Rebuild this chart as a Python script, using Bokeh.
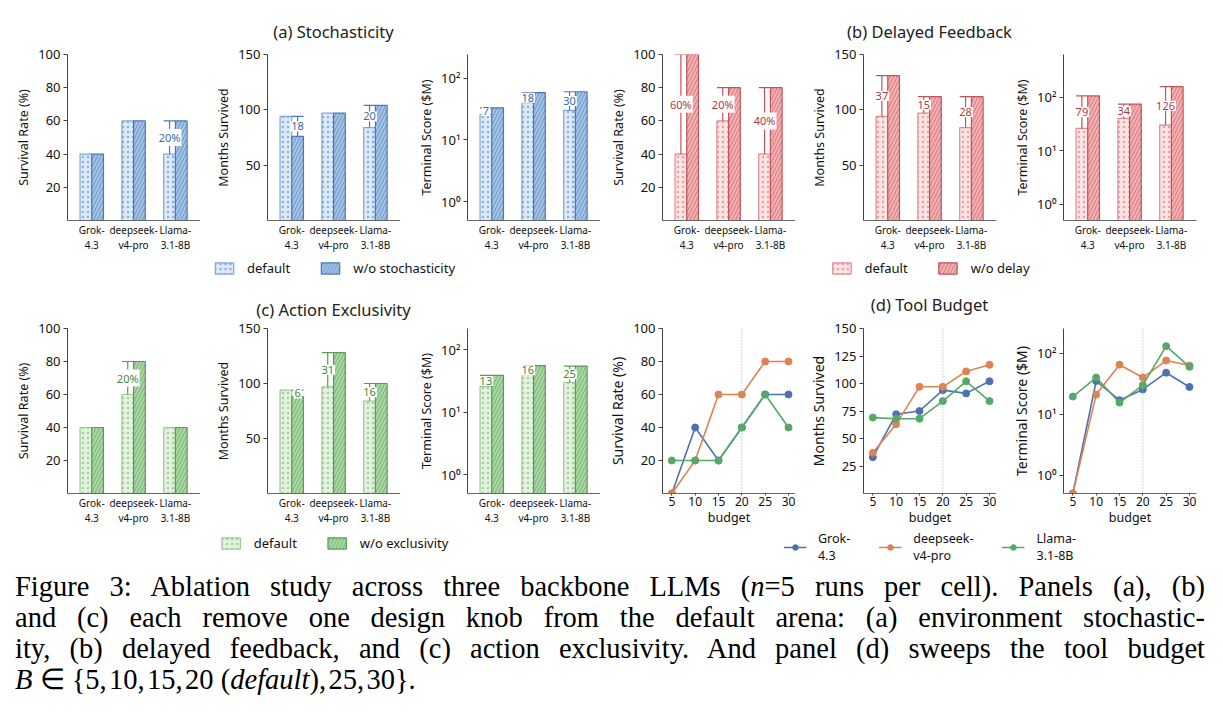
from bokeh.plotting import figure
from bokeh.layouts import row, column
from bokeh.models import Range1d, FixedTicker, Legend, LegendItem, Span, Div
from bokeh.core.properties import value
from bokeh.embed import file_html
from bokeh.resources import INLINE
import math

FONT = "Noto Sans"

# ---------------- data ----------------
categories = ["Grok-\n4.3", "deepseek-\nv4-pro", "Llama-\n3.1-8B"]
model_labels = ["Grok-\n4.3", "deepseek-\nv4-pro", "Llama-\n3.1-8B"]

default_survival = [40, 60, 40]
default_months = [94, 97, 84]
default_score = [26, 40, 30]

stoch_survival = [40, 60, 60]
stoch_months = [76, 97, 104]
stoch_score = [33, 58, 60]

delay_survival = [100, 80, 80]
delay_months = [131, 112, 112]
delay_score = [105, 74, 156]

excl_survival = [40, 80, 40]
excl_months = [88, 128, 100]
excl_score = [39, 56, 55]

budgets = [5, 10, 15, 20, 25, 30]
grok_budget_survival = [0, 40, 20, 40, 60, 60]
deepseek_budget_survival = [0, 20, 60, 60, 80, 80]
llama_budget_survival = [20, 20, 20, 40, 60, 40]
grok_budget_months = [33, 72, 75, 94, 91, 102]
deepseek_budget_months = [37, 63, 97, 97, 111, 117]
llama_budget_months = [69, 68, 68, 84, 102, 84]
grok_budget_score = [0.5, 35, 17, 25.5, 48, 28]
deepseek_budget_score = [0.5, 21, 65, 40, 76, 63]
llama_budget_score = [19.5, 40, 15.5, 30, 131, 60]
default_budget = 20

# ---------------- styles ----------------
PAL = {
    "blue": dict(def_fill="#dce9f7", def_hatch="#8cb1dc", def_line="#7fa8d8",
                 wo_fill="#a6c5e6", wo_hatch="#5283bd", wo_line="#4a79b6", text="#3a69a3"),
    "red": dict(def_fill="#fde4e4", def_hatch="#e8a2a6", def_line="#dc8c92",
                wo_fill="#f4b2b4", wo_hatch="#c8636a", wo_line="#c0545b", text="#b03a41"),
    "green": dict(def_fill="#e3f2df", def_hatch="#a3cf9c", def_line="#9dcb96",
                  wo_fill="#abd9a5", wo_hatch="#62a45f", wo_line="#5a9b58", text="#3f8a45"),
}
LINE_COLORS = ["#4C72B0", "#DD8452", "#55A868"]

KIND = {
    "survival": dict(label="Survival Rate (%)", rng=(0, 100), ticks=[20, 40, 60, 80, 100]),
    "months": dict(label="Months Survived", rng=(0, 150), ticks=[50, 100, 150]),
}
LOG_OVR = {1: "10\u2070", 10: "10\u00b9", 100: "10\u00b2"}
AX = "#444444"
BW = 0.28
FW = 133


def style(p):
    p.outline_line_color = None
    p.xgrid.visible = False
    p.ygrid.visible = False
    p.background_fill_color = "white"
    p.border_fill_color = "white"
    for ax in p.axis:
        ax.axis_line_color = AX
        ax.axis_line_width = 1
        ax.major_tick_line_color = AX
        ax.minor_tick_line_color = None
        ax.major_tick_in = 0
        ax.major_tick_out = 4
        ax.major_label_text_font = FONT
        ax.axis_label_text_font = FONT
        ax.axis_label_text_font_style = "normal"
        ax.axis_label_text_color = "#111"
        ax.major_label_text_color = "#111"
    p.yaxis.major_label_text_font_size = "13px"
    p.yaxis.axis_label_text_font_size = "12.5px"
    p.yaxis.axis_label_standoff = 3
    p.yaxis.major_label_standoff = 3


def bar_fig(kind, vals_def, vals_wo, pal, left, right, top, bottom, fh, score_top=240):
    c = PAL[pal]
    if kind == "score":
        yr, log, ticks, ylabel = (0.5, score_top), True, [1, 10, 100], "Terminal Score ($M)"
    else:
        k = KIND[kind]
        yr, log, ticks, ylabel = k["rng"], False, k["ticks"], k["label"]
    p = figure(frame_width=FW, frame_height=fh, min_border_left=left, min_border_right=right,
               min_border_top=top, min_border_bottom=bottom,
               x_range=Range1d(-0.58, 2.6), y_range=Range1d(*yr),
               y_axis_type="log" if log else "linear",
               toolbar_location=None, output_backend="svg")
    base = yr[0]
    n = len(categories)
    xd = [i - BW / 2 for i in range(n)]
    xw = [i + BW / 2 for i in range(n)]
    p.vbar(x=xd, top=vals_def, bottom=base, width=BW, fill_color=c["def_fill"],
           line_color=c["def_line"], line_width=1.2, hatch_pattern=".", hatch_color=c["def_hatch"],
           hatch_scale=5, hatch_weight=1.1)
    p.vbar(x=xw, top=vals_wo, bottom=base, width=BW, fill_color=c["wo_fill"],
           line_color=c["wo_line"], line_width=1.2, hatch_pattern="/", hatch_color=c["wo_hatch"],
           hatch_scale=7, hatch_weight=0.8)
    # difference brackets
    sx0, sy0, sx1, sy1, tx, ty, tt = [], [], [], [], [], [], []
    for i in range(n):
        d, w = vals_def[i], vals_wo[i]
        diff = abs(w - d)
        if round(diff) == 0:
            continue
        x = xd[i] if d < w else xw[i]
        lo, hi = min(d, w), max(d, w)
        sx0 += [x, x - BW / 2]
        sx1 += [x, x + BW / 2]
        sy0 += [lo, hi]
        sy1 += [hi, hi]
        tx.append(x)
        ty.append(math.sqrt(lo * hi) if log else (lo + hi) / 2)
        tt.append(f"{round(diff)}%" if kind == "survival" else f"{round(diff)}")
    p.segment(x0=sx0, y0=sy0, x1=sx1, y1=sy1, line_color=c["wo_line"], line_width=1.2)
    p.text(x=tx, y=ty, text=tt, text_font=value(FONT), text_font_size="11px",
           text_color=c["text"], text_align="center", text_baseline="middle",
           background_fill_color="white", padding=1)
    style(p)
    p.yaxis.ticker = FixedTicker(ticks=ticks)
    if log:
        p.yaxis.major_label_overrides = LOG_OVR
    p.yaxis.axis_label = ylabel
    p.xaxis.ticker = FixedTicker(ticks=list(range(n)))
    p.xaxis.major_label_overrides = {i: categories[i] for i in range(n)}
    p.xaxis.major_tick_line_color = None
    p.xaxis.major_tick_out = 0
    p.xaxis.major_label_text_font_size = "10px"
    p.xaxis.major_label_text_line_height = 1.1
    p.xaxis.major_label_standoff = 2
    p.xaxis.axis_line_color = "#666666"
    return p


def line_fig(kind, series, left, right, top, bottom, fh):
    if kind == "score":
        yr, log, ticks, ylabel = (0.5, 255), True, [1, 10, 100], "Terminal Score ($M)"
    elif kind == "months":
        yr, log, ticks, ylabel = (0, 150), False, [25, 50, 75, 100, 125, 150], "Months Survived"
    else:
        yr, log, ticks, ylabel = (0, 100), False, [20, 40, 60, 80, 100], "Survival Rate (%)"
    p = figure(frame_width=FW, frame_height=fh, min_border_left=left, min_border_right=right,
               min_border_top=top, min_border_bottom=bottom,
               x_range=Range1d(3.0, 31.5), y_range=Range1d(*yr),
               y_axis_type="log" if log else "linear",
               toolbar_location=None, output_backend="svg")
    p.add_layout(Span(location=default_budget, dimension="height", line_color="#aaaaaa",
                      line_dash="1 2", line_width=1))
    for vals, col in zip(series, LINE_COLORS):
        p.line(budgets, vals, line_color=col, line_width=1.6)
        p.scatter(budgets, vals, size=7, fill_color=col, line_color=col)
    style(p)
    p.yaxis.ticker = FixedTicker(ticks=ticks)
    if log:
        p.yaxis.major_label_overrides = LOG_OVR
    p.yaxis.axis_label = ylabel
    p.yaxis.axis_label_text_font_size = "14px"
    p.xaxis.ticker = FixedTicker(ticks=budgets)
    p.xaxis.major_tick_out = 2
    p.xaxis.major_label_text_font_size = "12px"
    p.xaxis.major_label_standoff = 1
    p.xaxis.axis_label = "budget"
    p.xaxis.axis_label_text_font_size = "12.5px"
    p.xaxis.axis_label_standoff = 0
    p.xaxis.axis_line_color = "#666666"
    return p


def title_div(text, width, center, height, cy):
    html = (f'<div style="position:relative;width:{width}px;height:{height}px;">'
            f'<span style="position:absolute;left:{center}px;top:{cy}px;'
            f'transform:translate(-50%,-50%);white-space:nowrap;font-family:\'{FONT}\';'
            f'font-size:16.5px;line-height:20px;color:#222">{text}</span></div>')
    return Div(text=html, width=width, height=height, margin=0)


def legend_fig(width, left, height, entries, fs="13px", lh=1.2):
    p = figure(width=width, height=height, min_border_left=left, min_border_right=0,
               min_border_top=0, min_border_bottom=0, x_axis_location=None, y_axis_location=None,
               x_range=Range1d(0, 1), y_range=Range1d(0, 1),
               toolbar_location=None, output_backend="svg")
    p.outline_line_color = None
    p.xgrid.visible = False
    p.ygrid.visible = False
    items = [LegendItem(label=label, renderers=rs(p)) for label, rs in entries]
    lg = Legend(items=items, orientation="horizontal", location="center",
                border_line_color=None, background_fill_alpha=0,
                label_text_font=FONT, label_text_font_size=fs, label_text_color="#111",
                label_text_line_height=lh,
                glyph_width=23, glyph_height=14, label_standoff=12, spacing=28,
                padding=0, margin=0)
    p.add_layout(lg, "center")
    return p


def bar_entry(c, which):
    def mk(p):
        if which == "def":
            r = p.vbar(x=[0], top=[0], width=0.1, fill_color=c["def_fill"], line_color=c["def_line"],
                       line_width=1.2, hatch_pattern=".", hatch_color=c["def_hatch"],
                       hatch_scale=5, hatch_weight=1.1)
        else:
            r = p.vbar(x=[0], top=[0], width=0.1, fill_color=c["wo_fill"], line_color=c["wo_line"],
                       line_width=1.2, hatch_pattern="/", hatch_color=c["wo_hatch"],
                       hatch_scale=7, hatch_weight=0.8)
        r.visible = False
        return [r]
    return mk


def line_entry(col):
    def mk(p):
        r1 = p.line([0], [0], line_color=col, line_width=1.6)
        r2 = p.scatter([0], [0], size=7, fill_color=col, line_color=col)
        r1.visible = False
        r2.visible = False
        return [r1, r2]
    return mk


# ---------------- panels ----------------
BOT = 36
L_AC, R_AC = [67, 67, 67], [0, 0, 0]
L_BD, R_BD = [62, 68, 67], [0, 0, 10]


def geom(lefts, rights):
    width = sum(lefts) + sum(rights) + 3 * FW
    center = lefts[0] + FW + rights[0] + lefts[1] + FW / 2
    return width, center


def bar_panel(pal, wo, title, wo_label, fh, lefts, rights, score_top, th, tcy, top, lh):
    s, m, sc = wo
    figs = [
        bar_fig("survival", default_survival, s, pal, lefts[0], rights[0], top, BOT, fh),
        bar_fig("months", default_months, m, pal, lefts[1], rights[1], top, BOT, fh),
        bar_fig("score", default_score, sc, pal, lefts[2], rights[2], top, BOT, fh, score_top=score_top),
    ]
    width, center = geom(lefts, rights)
    c = PAL[pal]
    lf = legend_fig(width, int(round(2 * center - width)), lh,
                    [("default", bar_entry(c, "def")), (wo_label, bar_entry(c, "wo"))])
    return column(title_div(title, width, center, th, tcy), row(*figs), lf)


panel_a = bar_panel("blue", (stoch_survival, stoch_months, stoch_score), "(a) Stochasticity",
                    "w/o stochasticity", 166, L_AC, R_AC, 240, 44, 32, 10, 24)
panel_b = bar_panel("red", (delay_survival, delay_months, delay_score), "(b) Delayed Feedback",
                    "w/o delay", 166, L_BD, R_BD, 620, 44, 32, 10, 24)
panel_c = bar_panel("green", (excl_survival, excl_months, excl_score), "(c) Action Exclusivity",
                    "w/o exclusivity", 165, L_AC, R_AC, 220, 40, 29.5, 8, 28)

d_figs = [
    line_fig("survival", [grok_budget_survival, deepseek_budget_survival, llama_budget_survival],
             L_BD[0], R_BD[0], 8, BOT, 165),
    line_fig("months", [grok_budget_months, deepseek_budget_months, llama_budget_months],
             L_BD[1], R_BD[1], 8, BOT, 165),
    line_fig("score", [grok_budget_score, deepseek_budget_score, llama_budget_score],
             L_BD[2], R_BD[2], 8, BOT, 165),
]
wd, cd = geom(L_BD, R_BD)
ld = legend_fig(wd, int(round(2 * cd - wd)), 36,
                [(model_labels[i], line_entry(LINE_COLORS[i])) for i in range(3)],
                fs="12.5px", lh=1.05)
panel_d = column(title_div("(d) Tool Budget", wd, cd, 40, 25), row(*d_figs), ld)

cap_lines = [
    "Figure 3: Ablation study across three backbone LLMs (<i>n</i>=5 runs per cell). Panels (a), (b)",
    "and (c) each remove one design knob from the default arena: (a) environment stochastic-",
    "ity, (b) delayed feedback, and (c) action exclusivity. And panel (d) sweeps the tool budget",
    "<i>B</i> \u2208 {5,\u200a10,\u200a15,\u200a20 (<i>default</i>),\u200a25,\u200a30}.",
]
parts = []
for i, l in enumerate(cap_lines):
    if i < len(cap_lines) - 1:
        parts.append(f'<div style="width:1190px;text-align:justify;text-align-last:justify">{l}</div>')
    else:
        parts.append(f'<div style="width:1190px">{l}</div>')
caption = Div(text="".join(parts), width=1190, height=126, margin=(6, 0, 0, 15),
              styles={"font-family": "Liberation Serif", "font-size": "28.5px",
                      "line-height": "31px", "color": "#000"})

layout = column(row(panel_a, panel_b), row(panel_c, panel_d), caption)

open("out.html", "w").write(file_html(layout, INLINE))
